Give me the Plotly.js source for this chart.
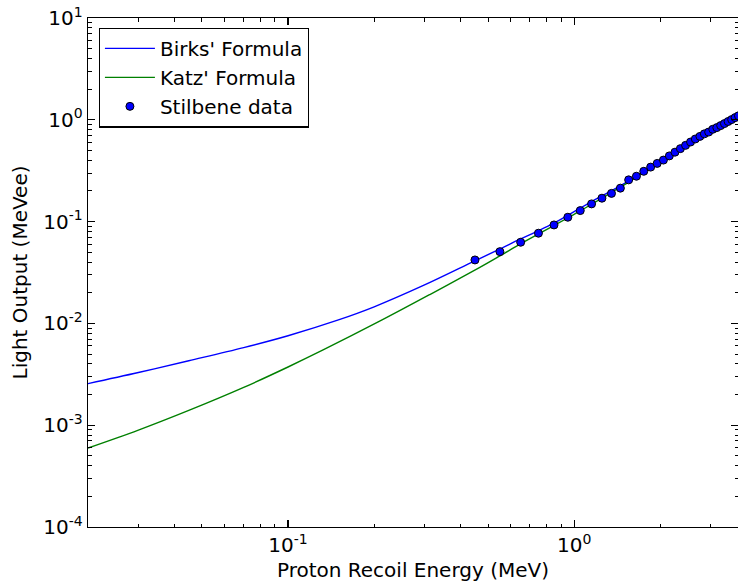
<!DOCTYPE html>
<html>
<head>
<meta charset="utf-8">
<script src="https://cdn.plot.ly/plotly-3.0.1.min.js"></script>
<style>
  html, body { margin: 0; padding: 0; background: #ffffff; }
  #chart { width: 738px; height: 583px; }
</style>
</head>
<body>
<div id="chart"></div>
<script>
// Proton recoil energy (MeV) and light output (MeVee) for the two models
const birksEnergy = [0.02, 0.03, 0.045, 0.07, 0.1, 0.15, 0.2, 0.3, 0.45, 0.55, 0.647, 0.748, 0.849, 0.948, 1.049, 1.15, 1.25, 1.347, 1.448, 1.545, 2.0, 2.5, 3.0, 3.75];
const birksLight  = [0.00256, 0.00329, 0.0043, 0.00579, 0.00757, 0.01082, 0.01455, 0.02386, 0.0412, 0.0538, 0.0671, 0.081, 0.0964, 0.1146, 0.1355, 0.1573, 0.179, 0.2004, 0.2244, 0.2496, 0.393, 0.587, 0.78, 1.085];

const katzEnergy = [0.02, 0.03, 0.045, 0.07, 0.1, 0.1326, 0.209, 0.313, 0.468, 0.55, 0.647, 0.748, 0.849, 0.948, 1.049, 1.15, 1.25, 1.347, 1.448, 1.545, 2.0, 2.5, 3.0, 3.75];
const katzLight  = [0.000596, 0.000894, 0.001396, 0.002351, 0.00373, 0.00548, 0.0105, 0.0192, 0.0355, 0.046, 0.06, 0.0752, 0.0912, 0.1085, 0.1272, 0.148, 0.1695, 0.193, 0.217, 0.243, 0.388, 0.585, 0.779, 1.083];

// Measured stilbene light output
const stilbeneEnergy = [0.45, 0.55, 0.65, 0.75, 0.85, 0.95, 1.05, 1.15, 1.25, 1.35, 1.45, 1.55, 1.65, 1.75, 1.85, 1.95, 2.05, 2.15, 2.25, 2.35, 2.45, 2.55, 2.65, 2.75, 2.85, 2.95, 3.05, 3.15, 3.25, 3.35, 3.45, 3.55, 3.65, 3.75];
const stilbeneLight  = [0.042, 0.0507, 0.0627, 0.0769, 0.0927, 0.1104, 0.1283, 0.1493, 0.1698, 0.1893, 0.2131, 0.257, 0.279, 0.312, 0.343, 0.373, 0.402, 0.442, 0.481, 0.521, 0.561, 0.605, 0.648, 0.687, 0.728, 0.758, 0.807, 0.838, 0.877, 0.918, 0.962, 1.005, 1.051, 1.094];

// Axis tick labels
const xTickVals = [0.01, 0.1, 1, 10];
const xTickText = ['10<sup>-2</sup>', '10<sup>-1</sup>', '10<sup>0</sup>', '10<sup>1</sup>'];
const yTickVals = [0.0001, 0.001, 0.01, 0.1, 1, 10];
const yTickText = ['10<sup>-4</sup>', '10<sup>-3</sup>', '10<sup>-2</sup>', '10<sup>-1</sup>', '10<sup>0</sup>', '10<sup>1</sup>'];

const FONT = 'DejaVu Sans, sans-serif';

const traces = [
  {
    x: birksEnergy, y: birksLight, type: 'scatter', mode: 'lines',
    name: "Birks' Formula",
    line: { color: '#0000ff', width: 1.4, shape: 'spline', smoothing: 1 }
  },
  {
    x: katzEnergy, y: katzLight, type: 'scatter', mode: 'lines',
    name: "Katz' Formula",
    line: { color: '#008000', width: 1.4, shape: 'spline', smoothing: 1 }
  },
  {
    x: stilbeneEnergy, y: stilbeneLight, type: 'scatter', mode: 'markers',
    name: 'Stilbene data',
    marker: { color: '#0000ff', size: 8, line: { color: '#000000', width: 1 } }
  }
];

const axisCommon = {
  type: 'log',
  showgrid: false,
  zeroline: false,
  showline: true,
  linecolor: '#000000',
  linewidth: 1.3,
  mirror: 'ticks',
  ticks: 'inside',
  ticklen: 7,
  tickwidth: 1.2,
  tickcolor: '#000000',
  tickmode: 'array',
  tickfont: { family: FONT, size: 20, color: '#000000' },
  minor: { dtick: 'D1', ticks: 'inside', ticklen: 3.5, tickwidth: 1, tickcolor: '#000000', showgrid: false }
};

const layout = {
  width: 738,
  height: 583,
  margin: { l: 88, r: 0, t: 18, b: 56, pad: 0 },
  paper_bgcolor: '#ffffff',
  plot_bgcolor: '#ffffff',
  font: { family: FONT, size: 20, color: '#000000' },
  showlegend: true,
  legend: {
    x: 0.0165, y: 0.981, xanchor: 'left', yanchor: 'top',
    itemwidth: 50,
    bgcolor: '#ffffff', bordercolor: '#000000', borderwidth: 1.2,
    font: { family: FONT, size: 20, color: '#000000' }
  },
  xaxis: Object.assign({}, axisCommon, {
    range: [Math.log10(0.02), 0.5724],
    tickvals: xTickVals, ticktext: xTickText,
    title: { text: 'Proton Recoil Energy (MeV)', font: { family: FONT, size: 20, color: '#000000' }, standoff: 6 }
  }),
  yaxis: Object.assign({}, axisCommon, {
    range: [-4, 1],
    tickvals: yTickVals, ticktext: yTickText,
    title: { text: 'Light Output (MeVee)', font: { family: FONT, size: 20, color: '#000000' }, standoff: 10 }
  })
};

Plotly.newPlot('chart', traces, layout, { displayModeBar: false, staticPlot: true });
</script>
</body>
</html>
